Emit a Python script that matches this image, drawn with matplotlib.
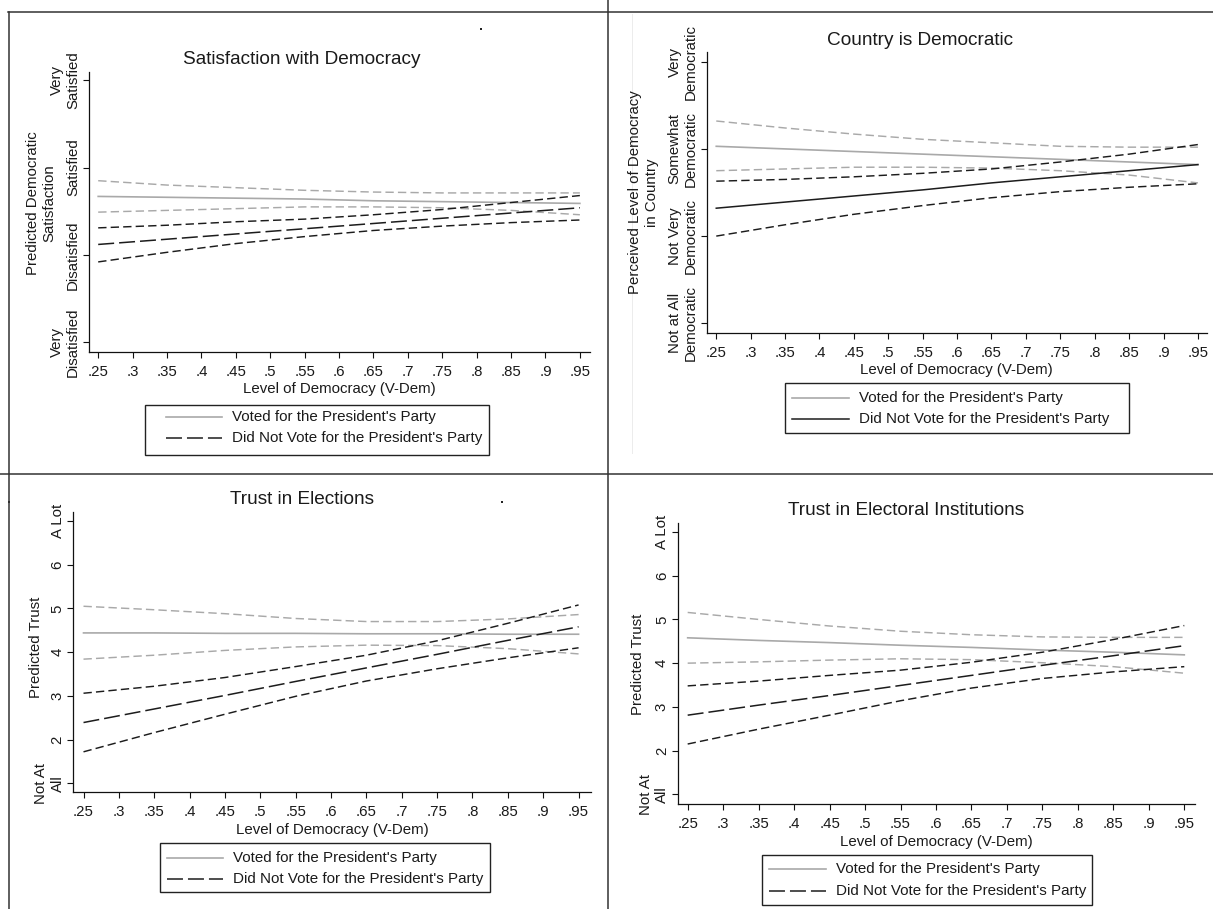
import matplotlib
matplotlib.use("Agg")
import matplotlib.pyplot as plt
from matplotlib.lines import Line2D
from matplotlib.patches import Rectangle

plt.rcParams['font.family'] = ['Liberation Sans', 'DejaVu Sans']
plt.rcParams['lines.scale_dashes'] = False

# ---------------- data ----------------
x_vdem = [0.25, 0.35, 0.45, 0.55, 0.65, 0.75, 0.85, 0.95]
x_ticks = [.25, .30, .35, .40, .45, .50, .55, .60, .65, .70, .75, .80, .85, .90, .95]
x_ticklabels = ['.25', '.3', '.35', '.4', '.45', '.5', '.55', '.6', '.65', '.7',
                '.75', '.8', '.85', '.9', '.95']

# Panel 1: Satisfaction with Democracy
sat_voted = [2.67, 2.66, 2.65, 2.64, 2.62, 2.61, 2.60, 2.59]
sat_voted_hi = [2.85, 2.80, 2.77, 2.74, 2.72, 2.71, 2.71, 2.71]
sat_voted_lo = [2.49, 2.51, 2.53, 2.55, 2.55, 2.54, 2.51, 2.46]
sat_not = [2.12, 2.18, 2.24, 2.30, 2.36, 2.42, 2.48, 2.54]
sat_not_hi = [2.31, 2.34, 2.38, 2.41, 2.46, 2.52, 2.60, 2.68]
sat_not_lo = [1.92, 2.03, 2.13, 2.21, 2.28, 2.33, 2.37, 2.40]
sat_yticks = [1, 2, 3, 4]
sat_ylabels = ['Very\nDisatisfied', 'Disatisfied', 'Satisfied', 'Very\nSatisfied']

# Panel 2: Country is Democratic
dem_voted = [3.03, 3.00, 2.97, 2.94, 2.91, 2.88, 2.85, 2.82]
dem_voted_hi = [3.32, 3.24, 3.17, 3.11, 3.07, 3.03, 3.02, 3.02]
dem_voted_lo = [2.75, 2.77, 2.79, 2.79, 2.78, 2.75, 2.70, 2.61]
dem_not = [2.32, 2.39, 2.46, 2.53, 2.61, 2.68, 2.75, 2.82]
dem_not_hi = [2.63, 2.65, 2.68, 2.72, 2.77, 2.85, 2.94, 3.05]
dem_not_lo = [2.00, 2.13, 2.25, 2.35, 2.44, 2.51, 2.56, 2.60]
dem_yticks = [1, 2, 3, 4]
dem_ylabels = ['Not at All\nDemocratic', 'Not Very\nDemocratic',
               'Somewhat\nDemocratic', 'Very\nDemocratic']

# Panel 3: Trust in Elections
el_voted = [4.44, 4.44, 4.43, 4.43, 4.42, 4.42, 4.41, 4.41]
el_voted_hi = [5.05, 4.97, 4.88, 4.77, 4.70, 4.70, 4.76, 4.86]
el_voted_lo = [3.84, 3.93, 4.04, 4.12, 4.16, 4.15, 4.08, 3.96]
el_not = [2.39, 2.70, 3.01, 3.33, 3.64, 3.95, 4.27, 4.58]
el_not_hi = [3.06, 3.22, 3.42, 3.67, 3.93, 4.26, 4.66, 5.08]
el_not_lo = [1.72, 2.16, 2.58, 2.99, 3.34, 3.62, 3.87, 4.10]

# Panel 4: Trust in Electoral Institutions
ei_voted = [4.58, 4.52, 4.47, 4.41, 4.36, 4.30, 4.25, 4.19]
ei_voted_hi = [5.16, 5.00, 4.85, 4.73, 4.65, 4.60, 4.59, 4.59]
ei_voted_lo = [4.00, 4.03, 4.07, 4.10, 4.08, 4.01, 3.92, 3.77]
ei_not = [2.81, 3.04, 3.26, 3.49, 3.72, 3.95, 4.17, 4.40]
ei_not_hi = [3.48, 3.59, 3.72, 3.84, 4.02, 4.25, 4.54, 4.86]
ei_not_lo = [2.15, 2.49, 2.81, 3.14, 3.43, 3.65, 3.80, 3.92]

trust_yticks = [1, 2, 3, 4, 5, 6, 7]
trust_ylabels = ['Not At\nAll', '2', '3', '4', '5', '6', 'A Lot']

legend_labels = ["Voted for the President's Party",
                 "Did Not Vote for the President's Party"]

# ---------------- styling ----------------
W, H, DPI = 1213, 909, 100
GRAY = '#a9a9a9'
BLACK = '#1c1c1c'
TXT = '#1a1a1a'
CI_DASH = (0, (6.0, 3.0))
LONG_DASH = (0, (11.5, 3.6))
LW = 1.05

fig = plt.figure(figsize=(W / DPI, H / DPI), dpi=DPI)


def fx(px):
    return px / W


def fy(py):
    return 1 - py / H


def make_panel(rect_px, xlim, ylim, yticks, yticklabels, ylabel, ylab_pos,
               title, title_px, series, not_style, legend_px):
    l, t, r, b = rect_px
    ax = fig.add_axes([fx(l), fy(b), (r - l) / W, (b - t) / H])
    voted, voted_hi, voted_lo, nv, nv_hi, nv_lo = series
    ax.plot(x_vdem, voted_hi, color=GRAY, lw=LW, ls=CI_DASH)
    ax.plot(x_vdem, voted_lo, color=GRAY, lw=LW, ls=CI_DASH)
    ax.plot(x_vdem, voted, color=GRAY, lw=1.2, ls='-')
    ax.plot(x_vdem, nv_hi, color=BLACK, lw=LW, ls=CI_DASH)
    ax.plot(x_vdem, nv_lo, color=BLACK, lw=LW, ls=CI_DASH)
    ax.plot(x_vdem, nv, color=BLACK, lw=1.1, ls=not_style)

    ax.set_xlim(*xlim)
    ax.set_ylim(*ylim)
    ax.set_xticks(x_ticks, x_ticklabels)
    ax.set_yticks(yticks, yticklabels, rotation=90, va='center',
                  multialignment='center')
    for s in ('top', 'right'):
        ax.spines[s].set_visible(False)
    for s in ('left', 'bottom'):
        ax.spines[s].set_linewidth(0.9)
        ax.spines[s].set_color('#111111')
    ax.tick_params(axis='both', length=4, width=0.8, color='#111111',
                   labelsize=10.8, labelcolor=TXT)
    ax.tick_params(axis='x', pad=5.5)
    ax.tick_params(axis='y', pad=2.3)
    ax.set_xlabel('Level of Democracy (V-Dem)', fontsize=10.8, color=TXT,
                  labelpad=2.5)
    ax.set_ylabel(ylabel, fontsize=10.8, color=TXT, va='center',
                  multialignment='center')
    ax.yaxis.set_label_coords((ylab_pos[0] - l) / (r - l),
                              (b - ylab_pos[1]) / (b - t))
    ax.set_title(title, fontsize=13.7, color=TXT, pad=0,
                 x=(title_px[0] - l) / (r - l),
                 y=(b - title_px[1] - 2) / (b - t), va='center')

    # legend (drawn at figure level)
    bl, bt, br, bb, hx0, hx1, tx0, ry1, ry2 = legend_px
    fig.patches.append(Rectangle((fx(bl), fy(bb)), (br - bl) / W, (bb - bt) / H,
                                 transform=fig.transFigure, facecolor='white',
                                 edgecolor='#222222', lw=1.0))
    fig.lines.append(Line2D([fx(hx0), fx(hx1)], [fy(ry1), fy(ry1)],
                            transform=fig.transFigure, color=GRAY, lw=1.2))
    fig.lines.append(Line2D([fx(hx0), fx(hx1)], [fy(ry2), fy(ry2)],
                            transform=fig.transFigure, color=BLACK, lw=1.1,
                            ls=not_style))
    fig.text(fx(tx0), fy(ry1), legend_labels[0], fontsize=10.9, color=TXT,
             ha='left', va='center')
    fig.text(fx(tx0), fy(ry2), legend_labels[1], fontsize=10.9, color=TXT,
             ha='left', va='center')
    return ax


# ---------------- panel borders (drawn first, behind) ----------------
def fig_line(x0, y0, x1, y1, color='#333333', lw=1.1, z=0):
    fig.lines.append(Line2D([fx(x0), fx(x1)], [fy(y0), fy(y1)],
                            transform=fig.transFigure, color=color, lw=lw,
                            zorder=z))

fig_line(632, 14, 632, 453, color='#ececec', lw=0.7, z=-1)

make_panel((88.9, 71.7, 589.5, 351.7), (0.2365, 0.964), (0.892, 4.098),
           sat_yticks, sat_ylabels, 'Predicted Democratic\nSatisfaction',
           (41.5, 203), 'Satisfaction with Democracy', (301.5, 58),
           (sat_voted, sat_voted_hi, sat_voted_lo, sat_not, sat_not_hi, sat_not_lo),
           LONG_DASH,
           (144.6, 405, 489.4, 455, 166, 222, 232, 416.7, 438.5))

make_panel((706.7, 52.3, 1207, 332.7), (0.2361, 0.9632), (0.892, 4.108),
           dem_yticks, dem_ylabels, 'Perceived Level of Democracy\nin Country',
           (643.5, 192.5), 'Country is Democratic', (920, 38.3),
           (dem_voted, dem_voted_hi, dem_voted_lo, dem_not, dem_not_hi, dem_not_lo),
           '-',
           (785.2, 383.3, 1129.4, 432.7, 792, 849, 859, 398.3, 419.3))

make_panel((73.4, 511.7, 590.6, 792.3), (0.2357, 0.967), (0.794, 7.213),
           trust_yticks, trust_ylabels, 'Predicted Trust',
           (36, 647.5), 'Trust in Elections', (302, 497.7),
           (el_voted, el_voted_hi, el_voted_lo, el_not, el_not_hi, el_not_lo),
           LONG_DASH,
           (160.4, 843, 490, 891.7, 167, 223.4, 233, 858.3, 879.3))

make_panel((677.6, 522.7, 1194.5, 804), (0.2358, 0.9644), (0.778, 7.213),
           trust_yticks, trust_ylabels, 'Predicted Trust',
           (638.5, 664), 'Trust in Electoral Institutions', (905.8, 508.3),
           (ei_voted, ei_voted_hi, ei_voted_lo, ei_not, ei_not_hi, ei_not_lo),
           LONG_DASH,
           (762, 855, 1092, 905, 768.6, 826, 835.6, 869.3, 890.7))

fig_line(8, 11.5, 1213, 11.5, z=5)
fig_line(8.5, 11.5, 8.5, 909, z=5)
fig_line(608, 0, 608, 909, z=5)
fig_line(0, 474, 1213, 474, z=5)

# small stray marks present in the original
for (px, py) in [(481, 29), (8.5, 501.7), (502.5, 501.7)]:
    fig.patches.append(Rectangle((fx(px - 1), fy(py + 1)), 2 / W, 2 / H,
                                 transform=fig.transFigure, color='#222222',
                                 lw=0))

fig.savefig('out.png', dpi=DPI)
